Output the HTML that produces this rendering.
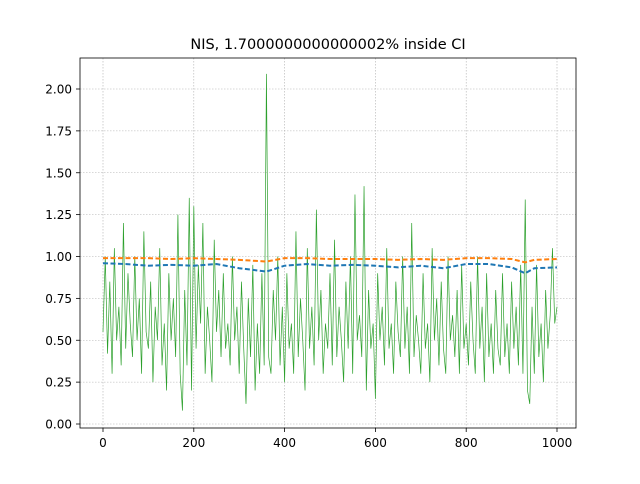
<!DOCTYPE html>
<html><head><meta charset="utf-8"><style>
body{margin:0;background:#fff;font-family:"DejaVu Sans","Liberation Sans",sans-serif}
svg text{font-family:"DejaVu Sans","Liberation Sans",sans-serif}
</style></head><body>
<svg id="chart" width="640" height="480" viewBox="0 0 640 480" xmlns="http://www.w3.org/2000/svg">
<rect width="640" height="480" fill="#fff"/>
<text x="328" y="49" font-size="14.5" text-anchor="middle">NIS, 1.7000000000000002% inside CI</text>
<g id="grid"></g><g id="series"></g>
<rect x="80" y="58" width="496" height="370" fill="none" stroke="#000" stroke-width="0.8"/>
<g id="axes"></g>
</svg>
<script>
const xTicks=[0,200,400,600,800,1000];
const yTicks=[0,0.25,0.5,0.75,1.0,1.25,1.5,1.75,2.0];
const yTickLabels=["0.00","0.25","0.50","0.75","1.00","1.25","1.50","1.75","2.00"];
const nisStep=5;
const nisValues=[0.55,1.0,0.42,0.85,0.3,1.05,0.5,0.7,0.35,1.2,0.45,0.9,0.6,0.4,1.0,0.5,0.75,0.3,1.15,0.55,
0.45,0.85,0.25,0.7,0.5,1.05,0.35,0.6,0.2,0.9,0.5,0.75,0.4,1.25,0.3,0.08,0.8,0.35,1.35,0.2,
1.3,0.45,0.95,0.6,1.2,0.3,0.7,0.5,0.25,1.1,0.55,0.8,0.4,0.9,0.45,0.6,0.35,1.0,0.5,0.7,
0.3,0.85,0.45,0.12,0.75,0.4,0.95,0.2,0.6,0.3,0.9,0.35,2.09,0.4,0.3,0.8,0.5,1.0,0.35,0.7,
0.25,0.9,0.45,0.6,0.3,1.15,0.4,0.75,0.5,0.2,1.05,0.45,0.7,0.35,1.28,0.5,0.8,0.3,0.6,0.45,
0.9,0.35,1.1,0.4,0.7,0.5,0.25,0.85,0.45,1.0,0.3,1.37,0.5,0.65,0.4,1.42,0.2,0.8,0.45,0.6,
0.15,0.9,0.5,0.7,0.35,1.05,0.45,0.6,0.3,0.85,0.55,0.4,1.0,0.45,0.7,0.3,1.2,0.4,0.65,0.5,
0.3,0.9,0.45,0.6,0.25,1.05,0.5,0.75,0.35,0.85,0.45,0.3,1.0,0.5,0.65,0.4,0.8,0.3,0.95,0.45,
0.6,0.35,0.85,0.5,0.3,1.0,0.45,0.7,0.25,0.9,0.4,0.6,0.3,0.8,0.45,0.35,0.9,0.4,0.6,0.3,
0.85,0.45,0.7,0.35,0.95,0.3,1.34,0.2,0.12,0.7,0.3,0.95,0.4,0.6,0.25,0.8,0.45,0.65,1.05,0.6,
0.7];
const upperX=[0,50,100,150,200,250,300,330,360,400,450,500,550,600,650,700,750,800,850,900,930,950,1000];
const upperY=[0.99,0.99,0.99,0.985,0.99,0.985,0.98,0.975,0.97,0.99,0.99,0.985,0.985,0.985,0.98,0.985,0.98,0.99,0.99,0.985,0.965,0.98,0.985];
const lowerX=[0,50,100,150,200,250,300,330,360,400,450,500,550,600,650,700,750,800,850,900,930,950,1000];
const lowerY=[0.96,0.955,0.945,0.95,0.945,0.955,0.93,0.92,0.91,0.945,0.955,0.945,0.95,0.945,0.935,0.945,0.93,0.955,0.955,0.935,0.9,0.93,0.935];
const ns="http://www.w3.org/2000/svg";
const X=v=>103+v*(557-103)/1000, Y=v=>424-v*(424-89)/2;
function mk(t,a,p){const e=document.createElementNS(ns,t);for(const k in a)e.setAttribute(k,a[k]);p.appendChild(e);return e;}
const grid=document.getElementById('grid'),axes=document.getElementById('axes'),ser=document.getElementById('series');
xTicks.forEach(t=>{const x=X(t);
const g=mk('line',{x1:x,x2:x,y1:58,y2:428,stroke:'#b0b0b0','stroke-width':0.6,'stroke-dasharray':'1.5,1.5'},grid);

const l=mk('line',{x1:x,x2:x,y1:428,y2:432,stroke:'#000','stroke-width':0.8},axes);

const tx=mk('text',{x:x,y:447,'font-size':12,'text-anchor':'middle'},axes);tx.textContent=t;
});
yTicks.forEach((t,i)=>{const y=Y(t);
const g=mk('line',{x1:80,x2:576,y1:y,y2:y,stroke:'#b0b0b0','stroke-width':0.6,'stroke-dasharray':'1.5,1.5'},grid);

const l=mk('line',{x1:76,x2:80,y1:y,y2:y,stroke:'#000','stroke-width':0.8},axes);

const tx=mk('text',{x:72,y:y+4.5,'font-size':12,'text-anchor':'end'},axes);tx.textContent=yTickLabels[i];
});
const nisPts=nisValues.map((v,i)=>X(i*nisStep)+','+Y(v)).join(' ');
const nl=mk('polyline',{points:nisPts,fill:'none',stroke:'#2ca02c','stroke-width':0.7},ser);

const lo=mk('polyline',{points:lowerX.map((x,i)=>X(x)+','+Y(lowerY[i])).join(' '),fill:'none',stroke:'#1f77b4','stroke-width':2,'stroke-dasharray':'5,2.5'},ser);

const up=mk('polyline',{points:upperX.map((x,i)=>X(x)+','+Y(upperY[i])).join(' '),fill:'none',stroke:'#ff7f0e','stroke-width':2,'stroke-dasharray':'5,2.5'},ser);

</script>
</body></html>
